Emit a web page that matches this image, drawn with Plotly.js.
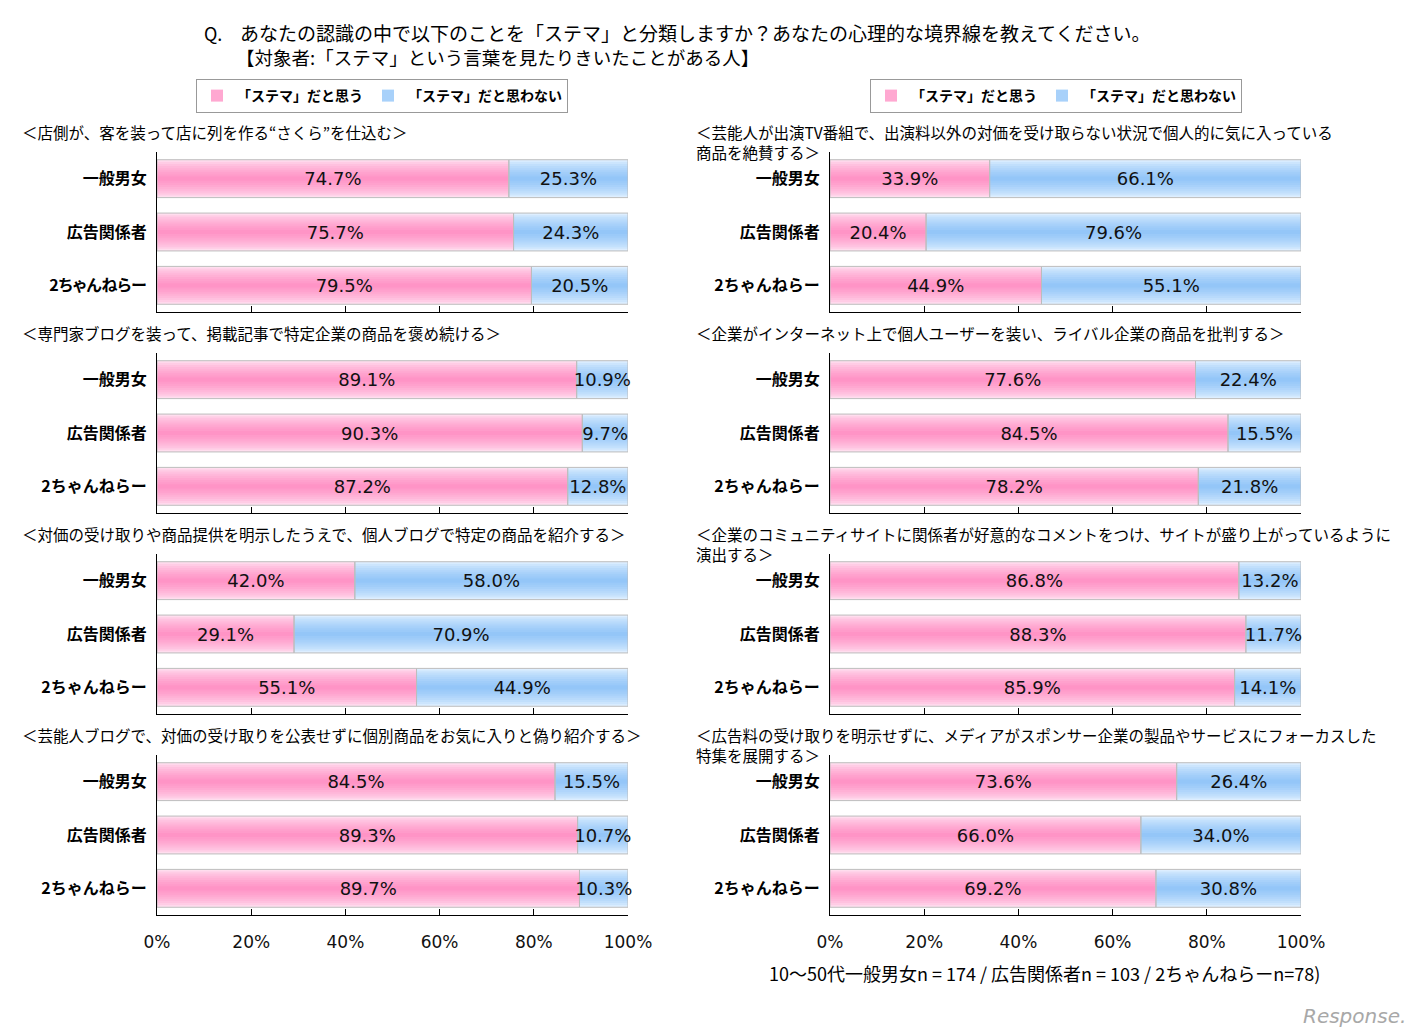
<!DOCTYPE html>
<html>
<head>
<meta charset="utf-8">
<script src="https://cdn.plot.ly/plotly-3.0.1.min.js"></script>
<style>
html,body{margin:0;padding:0;background:#fff;}
#chart{width:1425px;height:1036px;}
.ytick text { font-feature-settings: "palt" 1; }
</style>
</head>
<body>
<div id="chart"></div>
<script>
// ---------------- DATA ----------------
const groups = ['一般男女', '広告関係者', '2ちゃんねらー'];
const seriesNames = ['「ステマ」だと思う', '「ステマ」だと思わない'];
const questions = [
  '＜店側が、客を装って店に列を作る“さくら”を仕込む＞',
  '＜専門家ブログを装って、掲載記事で特定企業の商品を褒め続ける＞',
  '＜対価の受け取りや商品提供を明示したうえで、個人ブログで特定の商品を紹介する＞',
  '＜芸能人ブログで、対価の受け取りを公表せずに個別商品をお気に入りと偽り紹介する＞',
  '＜芸能人が出演TV番組で、出演料以外の対価を受け取らない状況で個人的に気に入っている<br>商品を絶賛する＞',
  '＜企業がインターネット上で個人ユーザーを装い、ライバル企業の商品を批判する＞',
  '＜企業のコミュニティサイトに関係者が好意的なコメントをつけ、サイトが盛り上がっているように<br>演出する＞',
  '＜広告料の受け取りを明示せずに、メディアがスポンサー企業の製品やサービスにフォーカスした<br>特集を展開する＞'
];
const yesPct = [
  [74.7, 75.7, 79.5],
  [89.1, 90.3, 87.2],
  [42.0, 29.1, 55.1],
  [84.5, 89.3, 89.7],
  [33.9, 20.4, 44.9],
  [77.6, 84.5, 78.2],
  [86.8, 88.3, 85.9],
  [73.6, 66.0, 69.2]
];
const noPct = [
  [25.3, 24.3, 20.5],
  [10.9, 9.7, 12.8],
  [58.0, 70.9, 44.9],
  [15.5, 10.7, 10.3],
  [66.1, 79.6, 55.1],
  [22.4, 15.5, 21.8],
  [13.2, 11.7, 14.1],
  [26.4, 34.0, 30.8]
];
const xTickVals = [0, 20, 40, 60, 80, 100];
const xTickText = ['0%', '20%', '40%', '60%', '80%', '100%'];
const titleLine1 = 'あなたの認識の中で以下のことを「ステマ」と分類しますか？あなたの心理的な境界線を教えてください。';
const titleLine2 = '【対象者:「ステマ」という言葉を見たりきいたことがある人】';
const footnote = '10～50代一般男女n = 174 / 広告関係者n = 103 / 2ちゃんねらーn=78)';

// ---------------- STYLE ----------------
const W = 1425, H = 1036;
const JP = '"Noto Sans CJK JP", "Noto Sans", sans-serif';
const NUM = '"DejaVu Sans", Verdana, sans-serif';
const px = x => x / W;
const py = y => 1 - y / H;
const colX = [[157, 628], [830, 1301]];
const panelTop0 = 152, panelH = 160, panelStep = 201;
const barW = 0.71;
const NL = 9;
const pinkEdge = '#FFDDEE', pinkCenter = '#FF94C6';
const blueEdge = '#DDEEFF', blueCenter = '#94C6F8';

function hex2rgb(h){return [1,3,5].map(i=>parseInt(h.substr(i,2),16));}
function mix(a,b,t){const A=hex2rgb(a),B=hex2rgb(b);return 'rgb('+A.map((v,i)=>Math.round(v+(B[i]-v)*t)).join(',')+')';}

const traces = [];
const legendCommon = {
  orientation: 'h', bordercolor: '#999', borderwidth: 1, bgcolor: '#fff',
  font: {family: JP, size: 14, color: '#000', weight: 'bold'}, itemwidth: 30, traceorder: 'normal',
  xanchor: 'left', yanchor: 'top'
};
const layout = {
  width: W, height: H,
  margin: {l:0, r:0, t:0, b:0},
  paper_bgcolor: '#fff', plot_bgcolor: 'rgba(0,0,0,0)',
  barmode: 'overlay',
  showlegend: true,
  font: {family: JP, color: '#000'},
  annotations: [],
  legend: Object.assign({x: px(196), y: py(79)}, legendCommon),
  legend2: Object.assign({x: px(870), y: py(79)}, legendCommon)
};

for (let p = 0; p < 8; p++) {
  const col = p < 4 ? 0 : 1;
  const row = p % 4;
  const n = p + 1;
  const xa = 'x' + (n === 1 ? '' : n), ya = 'y' + (n === 1 ? '' : n);
  const top = panelTop0 + row * panelStep, bottom = top + panelH;
  const legendName = col === 0 ? 'legend' : 'legend2';
  const yes = yesPct[p], no = noPct[p];

  // gradient layers
  [[yes, null, pinkEdge, pinkCenter, 0], [no, yes, blueEdge, blueCenter, 1]].forEach(([vals, base, ce, cc, si]) => {
    for (let i = 0; i < NL; i++) {
      const t = Math.pow(i / (NL - 1), 0.7);
      const tr = {
        type: 'bar', orientation: 'h', x: vals, y: groups,
        xaxis: xa, yaxis: ya, width: barW * (1 - i / NL),
        marker: {color: mix(ce, cc, t), line: {width: 0}},
        hoverinfo: 'skip', name: seriesNames[si], legend: legendName,
        showlegend: (row === 0 && i === 5)
      };
      if (base) tr.base = base;
      traces.push(tr);
    }
  });
  // outline + text traces
  [[yes, null], [no, yes]].forEach(([vals, base]) => {
    const tr = {
      type: 'bar', orientation: 'h', x: vals, y: groups,
      xaxis: xa, yaxis: ya, width: barW,
      marker: {color: 'rgba(0,0,0,0)', line: {width: 1, color: '#BDBDBD'}},
      text: vals.map(v => v.toFixed(1) + '%'),
      textposition: 'inside', insidetextanchor: 'middle', textangle: 0,
      constraintext: 'none', cliponaxis: false,
      textfont: {family: NUM, size: 18, color: '#111'},
      hoverinfo: 'skip', showlegend: false, legend: legendName
    };
    if (base) tr.base = base;
    traces.push(tr);
  });

  layout['xaxis' + (n === 1 ? '' : n)] = {
    domain: [px(colX[col][0]), px(colX[col][1])], anchor: ya,
    range: [0, 100], showgrid: false, zeroline: false,
    showline: true, linecolor: '#000', linewidth: 1,
    ticks: 'inside', ticklen: 6, tickcolor: '#000', tickwidth: 1,
    tickmode: 'array', tickvals: xTickVals, ticktext: xTickText,
    showticklabels: row === 3, ticklabelstandoff: 12,
    tickfont: {family: NUM, size: 17, color: '#111'}, fixedrange: true
  };
  layout['yaxis' + (n === 1 ? '' : n)] = {
    domain: [py(bottom), py(top)], anchor: xa,
    type: 'category', categoryorder: 'array', categoryarray: groups,
    range: [2.5, -0.5], showgrid: false, zeroline: false,
    showline: true, linecolor: '#000', linewidth: 1, ticks: '',
    ticklabelstandoff: 6,
    tickfont: {family: JP, size: 16, color: '#000', weight: 'bold'}, fixedrange: true
  };

  // panel title (one annotation, may contain a line break)
  layout.annotations.push({
    xref: 'paper', yref: 'paper', x: px(col === 0 ? 20 : 694), y: py(top - 33),
    xanchor: 'left', yanchor: 'top', align: 'left', showarrow: false, text: questions[p],
    font: {family: JP, size: 15.5, color: '#000'}
  });
}

layout.annotations.push(
  {xref:'paper', yref:'paper', x:px(202), y:py(33), xanchor:'left', yanchor:'middle', showarrow:false,
   text:'Q.', font:{family: JP, size: 18, color:'#000'}},
  {xref:'paper', yref:'paper', x:px(238), y:py(33), xanchor:'left', yanchor:'middle', showarrow:false,
   text:titleLine1, font:{family: JP, size: 19, color:'#000'}},
  {xref:'paper', yref:'paper', x:px(234), y:py(57), xanchor:'left', yanchor:'middle', showarrow:false,
   text:titleLine2, font:{family: JP, size: 18.5, color:'#000'}},
  {xref:'paper', yref:'paper', x:px(767), y:py(973), xanchor:'left', yanchor:'middle', showarrow:false,
   text:footnote, font:{family: JP, size: 18, color:'#000'}},
  {xref:'paper', yref:'paper', x:px(1408), y:py(1016), xanchor:'right', yanchor:'middle', showarrow:false,
   text:'<i>Response.</i>', font:{family: '"DejaVu Sans", sans-serif', size: 20, color:'#A8A8A8'}}
);

Plotly.newPlot('chart', traces, layout, {displayModeBar: false, staticPlot: true});
</script>
</body>
</html>
